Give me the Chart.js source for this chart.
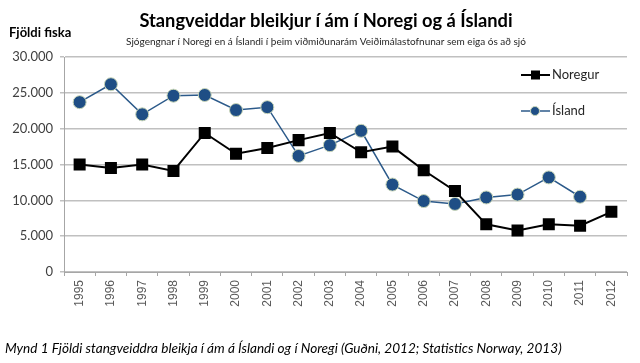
<!DOCTYPE html>
<html>
<head>
<meta charset="utf-8">
<script src="https://cdn.jsdelivr.net/npm/chart.js@4/dist/chart.umd.min.js"></script>
<style>
  html, body { margin: 0; padding: 0; background: #fff; }
  #wrap { width: 640px; height: 363px; }
</style>
</head>
<body>
<div id="wrap"><canvas id="fishChart"></canvas></div>
<script>
const years = ['1995','1996','1997','1998','1999','2000','2001','2002','2003','2004','2005','2006','2007','2008','2009','2010','2011','2012'];
const noregur = [15000, 14500, 15000, 14100, 19400, 16500, 17300, 18400, 19400, 16700, 17500, 14200, 11300, 6650, 5800, 6650, 6450, 8400];
const island = [23700, 26200, 22000, 24600, 24700, 22600, 23000, 16200, 17700, 19700, 12200, 9900, 9500, 10400, 10800, 13200, 10500, null];
const yTicks = [0, 5000, 10000, 15000, 20000, 25000, 30000];

const titleText = 'Stangveiddar bleikjur í ám í Noregi og á Íslandi';
const subtitleText = 'Sjógengnar í Noregi en á Íslandi í þeim viðmiðunarám Veiðimálastofnunar sem eiga ós að sjó';
const yTitleText = 'Fjöldi fiska';
const captionText = 'Mynd 1 Fjöldi stangveiddra bleikja í ám á Íslandi og í Noregi (Guðni, 2012; Statistics Norway, 2013)';

const fmt = v => String(v).replace(/\B(?=(\d{3})+(?!\d))/g, '.');

// texts and in-plot legend drawn by hand, like the Excel original
const decor = {
  id: 'decor',
  afterDraw(chart) {
    const ctx = chart.ctx;
    ctx.save();
    ctx.fillStyle = '#000';
    ctx.textBaseline = 'middle';
    ctx.textAlign = 'center';
    ctx.font = 'bold 18.3px Lato';
    ctx.fillText(titleText, 326, 21);
    ctx.font = '10px Lato';
    ctx.fillStyle = '#262626';
    ctx.fillText(subtitleText, 326, 42);
    ctx.textAlign = 'left';
    ctx.fillStyle = '#000';
    ctx.font = 'bold 13px Lato';
    ctx.fillText(yTitleText, 9, 33);
    ctx.font = 'italic 13.6px Lato';
    ctx.fillText(captionText, 5, 349);

    // legend
    chart.data.datasets.forEach((ds, i) => {
      const y = 75 + i * 36;
      ctx.strokeStyle = ds.borderColor;
      ctx.lineWidth = ds.borderWidth;
      ctx.beginPath();
      ctx.moveTo(521, y);
      ctx.lineTo(550, y);
      ctx.stroke();
      ctx.fillStyle = ds.pointBackgroundColor;
      ctx.strokeStyle = ds.pointBorderColor;
      ctx.lineWidth = ds.pointBorderWidth;
      ctx.beginPath();
      if (ds.pointStyle === 'rect') {
        ctx.rect(531, y - 4.5, 9, 9);
      } else {
        ctx.arc(535, y, 4.5, 0, Math.PI * 2);
      }
      ctx.fill();
      if (ds.pointBorderWidth) ctx.stroke();
      ctx.fillStyle = '#262626';
      ctx.font = '13px Lato';
      ctx.fillText(ds.label, 552, y);
    });
    ctx.restore();
  }
};

new Chart(document.getElementById('fishChart'), {
  type: 'line',
  data: {
    labels: years,
    datasets: [{
      label: 'Noregur',
      data: noregur,
      borderColor: '#000',
      borderWidth: 2,
      pointStyle: 'rect',
      pointRadius: 8.5,
      pointBackgroundColor: '#000',
      pointBorderColor: '#000',
      pointBorderWidth: 0,
      tension: 0
    }, {
      label: 'Ísland',
      data: island,
      borderColor: '#2c5a8a',
      borderWidth: 1.5,
      pointStyle: 'circle',
      pointRadius: 6.5,
      pointBackgroundColor: '#1f4e85',
      pointBorderColor: '#c9d6b8',
      pointBorderWidth: 1,
      tension: 0
    }]
  },
  options: {
    responsive: true,
    maintainAspectRatio: false,
    animation: false,
    layout: { padding: { left: 0, right: 13, top: 57, bottom: 0 } },
    plugins: {
      legend: { display: false },
      tooltip: { enabled: false }
    },
    scales: {
      x: {
        offset: true,
        afterFit: s => { s.height = 91; },
        grid: {
          offset: true,
          drawOnChartArea: false,
          color: '#a6a6a6',
          tickLength: 4
        },
        border: { color: '#a6a6a6', width: 1 },
        ticks: {
          minRotation: 90,
          maxRotation: 90,
          autoSkip: false,
          padding: 4,
          color: '#595959',
          font: { family: 'Liberation Sans', size: 12 }
        }
      },
      y: {
        min: 0,
        max: 30000,
        afterFit: s => { s.width = 64; },
        afterBuildTicks: s => { s.ticks = yTicks.map(v => ({ value: v })); },
        grid: {
          color: '#c0c0c0',
          lineWidth: 1.5,
          tickLength: 4
        },
        border: { color: '#a6a6a6', width: 1 },
        ticks: {
          padding: 7,
          color: '#404040',
          font: { family: 'Lato', size: 13 },
          callback: v => fmt(v)
        }
      }
    }
  },
  plugins: [decor]
});
</script>
</body>
</html>
